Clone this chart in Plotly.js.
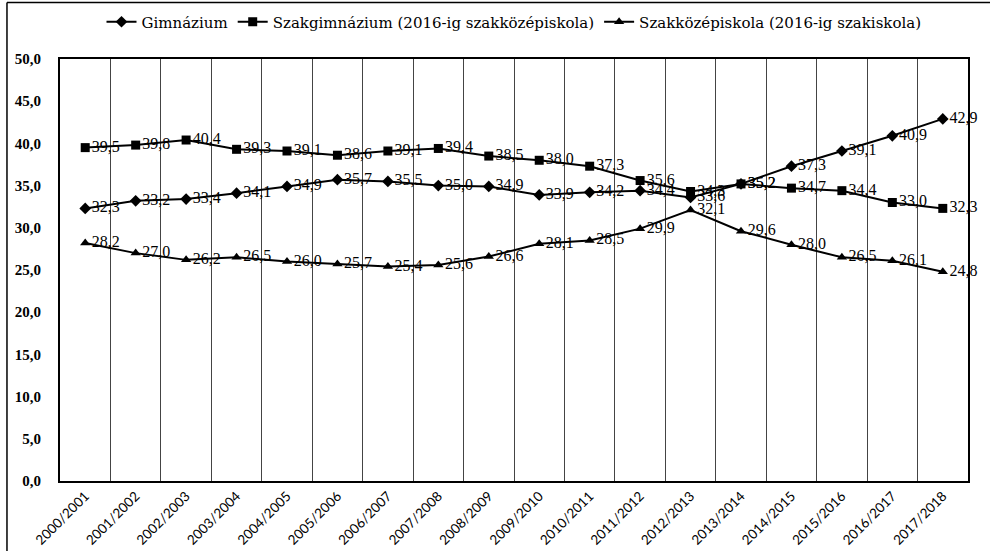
<!DOCTYPE html>
<html><head><meta charset="utf-8">
<script src="https://cdn.plot.ly/plotly-3.0.1.min.js"></script>
<style>html,body{margin:0;padding:0;background:#fff;}#chart{width:990px;height:551px;}</style>
</head><body><div id="chart"></div>
<script>
const categories = ["2000/2001","2001/2002","2002/2003","2003/2004","2004/2005","2005/2006","2006/2007","2007/2008","2008/2009","2009/2010","2010/2011","2011/2012","2012/2013","2013/2014","2014/2015","2015/2016","2016/2017","2017/2018"];
const gimnazium = [32.3,33.2,33.4,34.1,34.9,35.7,35.5,35.0,34.9,33.9,34.2,34.4,33.6,35.2,37.3,39.1,40.9,42.9];
const szakgimnazium = [39.5,39.8,40.4,39.3,39.1,38.6,39.1,39.4,38.5,38.0,37.3,35.6,34.3,35.2,34.7,34.4,33.0,32.3];
const szakkozep = [28.2,27.0,26.2,26.5,26.0,25.7,25.4,25.6,26.6,28.1,28.5,29.9,32.1,29.6,28.0,26.5,26.1,24.8];
const seriesNames = ["Gimnázium","Szakgimnázium (2016-ig szakközépiskola)","Szakközépiskola (2016-ig szakiskola)"];

const fmt = v => v.toFixed(1).replace('.', ',');
const labelFont = {family:"Liberation Serif, serif", size:16, color:"#000"};
function tr(name, y, sym, size){
  return {type:'scatter', mode:'lines+markers+text', name:name, x:categories, y:y,
    line:{color:'#000', width:2}, marker:{symbol:sym, size:size, color:'#000'},
    text:y.map(fmt), textposition:'middle right', textfont:labelFont, cliponaxis:false};
}
const data = [tr(seriesNames[0], gimnazium, 'diamond', 9),
              tr(seriesNames[1], szakgimnazium, 'square', 9),
              tr(seriesNames[2], szakkozep, 'triangle-up', 9)];
const layout = {
  width:990, height:551, paper_bgcolor:'#fff', plot_bgcolor:'#fff',
  margin:{l:60, r:22, t:59, b:70, autoexpand:false},
  separators:',.',
  showlegend:true,
  legend:{orientation:'h', x:0.5, xanchor:'center', y:1.0877, yanchor:'middle',
    font:{family:"DejaVu Serif, serif", size:15, color:'#000'}, itemwidth:30},
  xaxis:{type:'category', tickson:'boundaries', showgrid:true, gridcolor:'#444', gridwidth:1,
    showline:true, linecolor:'#000', linewidth:2, mirror:true, ticks:'', tickangle:-45, automargin:false,
    tickfont:{family:"Lato, Open Sans, sans-serif", size:13.5, color:'#000'}, range:[-0.5,17.5]},
  yaxis:{range:[0,50], dtick:5, tickformat:'.1f', showgrid:false, zeroline:false, automargin:false,
    showline:true, linecolor:'#000', linewidth:2, mirror:true, ticks:'', ticklabelstandoff:14,
    tickfont:{family:"Liberation Serif, serif", size:15, color:'#000', weight:'bold'}},
  shapes:[
    {type:'line', xref:'paper', yref:'paper', x0:-0.0584, x1:1.03, y0:1.134, y1:1.134, line:{color:'#000', width:1.5}},
    {type:'line', xref:'paper', yref:'paper', x0:-0.0584, x1:-0.0584, y0:1.134, y1:-0.2, line:{color:'#000', width:1.5}}
  ]
};
Plotly.newPlot('chart', data, layout, {displayModeBar:false, staticPlot:true});
</script></body></html>
